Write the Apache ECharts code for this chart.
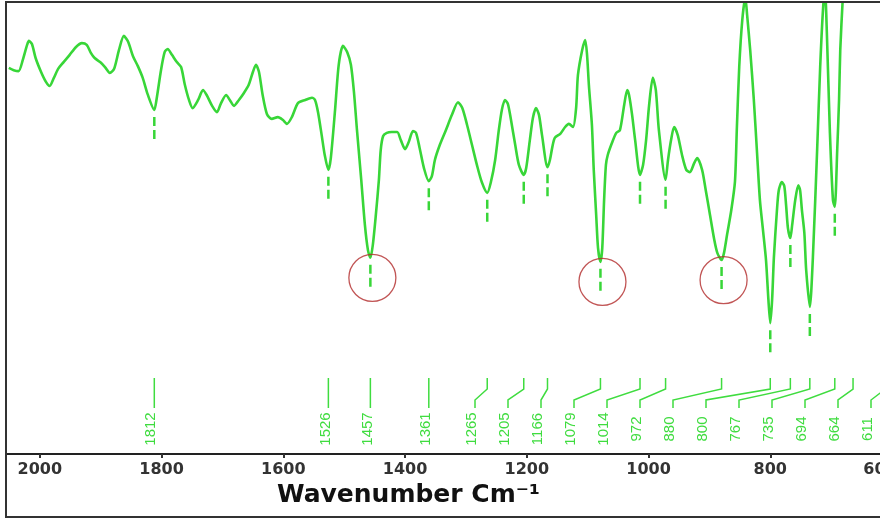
<!DOCTYPE html>
<html><head><meta charset="utf-8">
<script src="https://cdn.jsdelivr.net/npm/echarts@6/dist/echarts.min.js"></script>
<style>html,body{margin:0;padding:0;background:#fff}#c{width:880px;height:522px}</style>
</head><body><div id="c"></div>
<script>
// Spectrum: wavenumber (cm-1) and transmittance (%)
const wavenumber = [2051,2043,2035,2028,2021,2018,2013,2007,1998,1990,1984,1977,1970,1961,1951,1941,1931,1923,1916,1910,1901,1893,1885,1878,1870,1862,1855,1847,1839,1831,1823,1812,1808,1801,1795,1790,1783,1775,1768,1762,1755,1749,1740,1732,1726,1717,1709,1703,1694,1688,1681,1673,1665,1657,1650,1645,1640,1634,1627,1619,1609,1601,1594,1586,1576,
1564,1553,1548,1543,1537,1532,1526,1522,1515,1509,1502,1495,1489,1484,1479,1472,1466,1461,1457,1453,1448,1443,1440,1436,1430,1422,1413,1407,1400,1394,1387,1382,1376,1369,1361,1356,1351,1343,1333,1323,1313,1306,1298,1290,1282,1274,1265,1259,1252,1246,1241,1236,1231,1226,1219,1213,1205,1201,1195,1190,1185,1180,1175,1166,1162,1158,1154,1145,1137,1131,1124,1119,1116,1109,1104,1101,1098,1093,1090,1086,1083,1079,1076,1073,1070,1067,1060,1053,1047,1040,1035,1032,1027,1022,1014,1009,1004,999,993,988,983,972,968,963,958,952,945,938,932,925,920,912,906,899,892,887,880,876,871,864,858,855,851,846,841,838,833,827,822,817,812,807,803,800,797,794,789,786,781,777,774,771,767,764,759,754,751,748,744,741,735,730,723,718,713,710,707,702,697,694,690,687,685,681,677,669,664,656,643,628,611,600];
const transmittance = [85.6,85.1,84.9,87.4,90.7,91.6,90.9,87.8,84.7,82.5,81.6,83.4,85.4,86.9,88.5,90.2,91.1,90.7,88.9,87.8,86.9,85.8,84.5,85.4,89.6,92.7,91.4,88.2,86.0,83.4,79.8,76.3,78.9,85.1,89.1,89.8,88.5,86.9,85.8,82.0,78.5,76.7,78.5,80.7,79.6,77.2,75.8,77.6,79.6,78.5,77.2,78.5,80.0,81.8,84.7,86.3,84.7,79.6,75.4,74.3,74.7,74.1,73.2,74.7,77.8,
78.5,79.0,78.5,75.8,70.7,66.3,63.0,65.6,76.3,86.3,90.5,89.1,86.3,80.3,71.8,60.8,50.8,45.2,43.5,46.3,53.0,60.8,67.4,70.5,71.2,71.4,71.4,69.6,67.6,69.2,71.6,71.2,67.8,63.4,60.5,61.6,65.2,68.5,71.8,75.2,78.0,76.7,72.9,68.5,64.1,60.3,57.9,60.3,65.2,71.8,76.3,78.5,77.6,74.1,68.5,64.1,61.9,63.4,69.6,74.5,76.7,75.2,70.7,63.6,65.2,68.1,70.1,71.0,72.5,73.2,72.5,76.7,84.0,89.6,91.8,88.5,81.8,72.9,63.0,53.0,45.7,42.6,45.7,56.3,64.1,66.3,69.0,71.2,71.8,77.4,80.7,79.6,75.2,69.6,61.9,64.1,69.6,77.4,83.4,80.7,71.8,60.8,65.2,69.6,72.5,70.7,66.3,63.0,62.5,64.5,65.6,63.0,58.5,53.0,47.5,44.6,43.0,44.6,48.6,54.1,60.4,71.8,85.8,96.2,101.3,97.3,89.6,78.5,67.4,56.3,49.7,43.0,34.1,29.0,34.1,43.7,54.1,58.5,60.3,59.4,55.2,50.1,47.9,50.8,56.3,59.6,58.5,54.1,49.0,40.8,32.6,43.5,67.4,85.8,99.3,102.4,93.3,71.2,56.3,54.8,67.4,78.5,89.6,100.7,109.5,114,108,114,116,110,105.6,111];

const peakLabels = [1812,1526,1457,1361,1265,1205,1166,1079,1014,972,880,800,767,735,694,664,611];
const circledPeaks = [1457,1079,880];
const xTicks = [600,800,1000,1200,1400,1600,1800,2000];
const axisTitle = 'Wavenumber Cm⁻¹';

const GREEN = '#38d638';
const LABEL_GREEN = '#3fdc3f';

function valueAt(v){
  for (let i = 0; i < wavenumber.length - 1; i++) {
    const a = wavenumber[i], b = wavenumber[i+1];
    if (a >= v && v >= b) {
      const t = (a - v) / (a - b);
      return transmittance[i] + (transmittance[i+1] - transmittance[i]) * t;
    }
  }
  return null;
}

const chart = echarts.init(document.getElementById('c'), null, {renderer: 'canvas'});

const option = {
  animation: false,
  backgroundColor: '#fff',
  grid: {left: 7, right: -12, top: 3, bottom: 68, containLabel: false, outerBoundsMode: 'none'},
  xAxis: {
    type: 'value', min: xTicks[0], max: 2054, interval: 200, inverse: true,
    axisLine: {lineStyle: {color: '#222', width: 2}},
    axisTick: {length: 4, lineStyle: {color: '#333', width: 2}},
    splitLine: {show: false},
    axisLabel: {
      color: '#333', fontSize: 16, fontWeight: 'bold', fontFamily: 'DejaVu Sans', margin: 8,
      formatter: v => v === xTicks[0] ? '{e|' + v + '}' : String(v),
      rich: {e: {color: '#333', fontSize: 16, fontWeight: 'bold', fontFamily: 'DejaVu Sans', padding: [0, 24, 0, 0]}}
    }
  },
  yAxis: {type: 'value', min: 0, max: 100, show: false},
  series: [
    {
      type: 'line', data: wavenumber.map((w, i) => [w, transmittance[i]]),
      showSymbol: false, smooth: 0.25, clip: true, z: 3,
      lineStyle: {color: GREEN, width: 2.6}
    },
    {
      // dashed markers under each labelled minimum
      type: 'custom', silent: true, z: 2,
      data: peakLabels.map(v => [v, valueAt(v)]),
      encode: {x: 0, y: 1},
      renderItem: function(params, api){
        const v = api.value(0), t = api.value(1);
        if (t == null || t > 99) return null;
        const p = api.coord([v, t]);
        return {type: 'line', shape: {x1: p[0], y1: p[1] + 7, x2: p[0], y2: p[1] + 32},
          style: {stroke: GREEN, lineWidth: 2.5, lineDash: [9, 4]}};
      }
    },
    {
      type: 'scatter', silent: true, z: 4,
      data: circledPeaks.map(v => [v, valueAt(v)]),
      symbol: 'circle', symbolSize: 47, symbolOffset: [2, 20],
      itemStyle: {color: 'rgba(0,0,0,0)', borderColor: '#b22a2a', borderWidth: 1.3}
    },
    {
      // peak labels with leader lines
      type: 'custom', silent: true, z: 2,
      data: peakLabels.map(v => [v, 0]),
      encode: {x: 0, y: 1},
      renderItem: function(params, api){
        const xs = peakLabels.map(v => api.coord([v, 0])[0]);
        const lx = new Array(xs.length);
        const cap = api.getWidth() - 9, gap = 33;
        for (let i = xs.length - 1; i >= 0; i--) {
          let x = Math.min(xs[i], cap);
          if (i < xs.length - 1) x = Math.min(x, lx[i+1] - gap);
          lx[i] = x;
        }
        const i = params.dataIndex;
        const px = xs[i], L = lx[i];
        return {type: 'group', children: [
          {type: 'polyline', shape: {points: [[px, 378], [px, 389], [L, 400], [L, 408]]},
            style: {stroke: LABEL_GREEN, lineWidth: 1.5, fill: null}},
          {type: 'text', x: L - 3, y: 429, rotation: Math.PI / 2,
            style: {text: String(peakLabels[i]), fill: LABEL_GREEN, font: '15px "Liberation Sans"', align: 'center', verticalAlign: 'middle'}}
        ]};
      }
    }
  ],
  graphic: [
    {type: 'rect', silent: true, z: 10, shape: {x: 6, y: 2, width: 900, height: 515},
      style: {fill: null, stroke: '#333', lineWidth: 2}},
    {type: 'text', left: 277, top: 483, silent: true,
      style: {text: axisTitle, font: 'bold 25px "DejaVu Sans"', fill: '#111'}}
  ]
};
chart.setOption(option);
</script>
</body></html>
